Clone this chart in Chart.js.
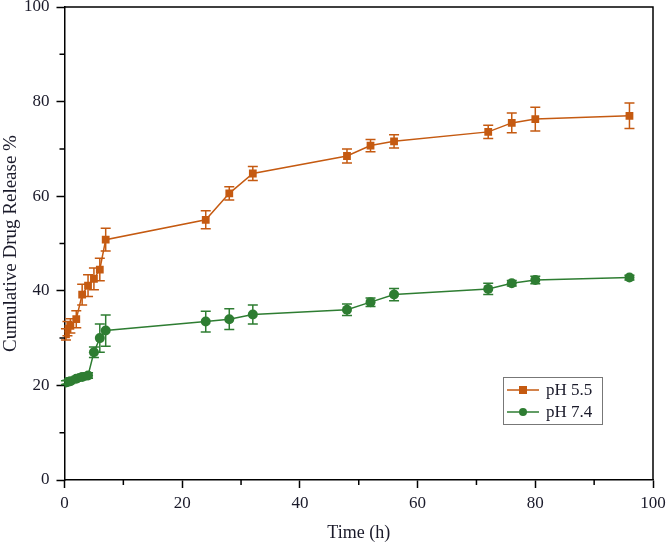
<!DOCTYPE html>
<html>
<head>
<meta charset="utf-8">
<script src="https://cdn.jsdelivr.net/npm/chart.js@4.4.0/dist/chart.umd.min.js"></script>
<style>
	html, body { margin: 0; padding: 0; background: #fff; }
	#wrap { width: 666px; height: 545px; }
</style>
</head>
<body>
<div id="wrap"><canvas id="release-chart" width="666" height="545"></canvas></div>
<script>
const timeH = [0.25, 0.5, 1, 2, 3, 4, 5, 6, 7, 24, 28, 32, 48, 52, 56, 72, 76, 80, 96];
const ph55 = [30.8, 32.0, 32.6, 34.0, 39.2, 41.1, 42.5, 44.5, 50.8, 55.0, 60.6, 64.8, 68.5, 70.7, 71.6, 73.6, 75.5, 76.3, 77.0];
const ph55Err = [1.2, 1.5, 1.5, 1.8, 2.2, 2.3, 2.3, 2.4, 2.4, 1.9, 1.4, 1.5, 1.5, 1.3, 1.4, 1.4, 2.1, 2.5, 2.7];
const ph74 = [20.6, 20.7, 20.9, 21.4, 21.8, 22.1, 27.0, 30.0, 31.6, 33.5, 34.0, 35.0, 36.0, 37.6, 39.2, 40.4, 41.6, 42.3, 42.8];
const ph74Err = [0.4, 0.4, 0.5, 0.5, 0.6, 0.6, 1.1, 3.0, 3.3, 2.2, 2.2, 2.0, 1.2, 0.9, 1.3, 1.2, 0.6, 0.8, 0.5];
const seriesLabels = ['pH 5.5', 'pH 7.4'];

const ORANGE = '#c55a11';
const GREEN = '#2e7d32';
const FONT = "'Liberation Serif', 'Times New Roman', serif";

function toPoints(ys) {
	return timeH.map((t, i) => ({ x: t, y: ys[i] }));
}

// error bars, minor ticks, frame and legend drawn over the chart
const extras = {
	id: 'extras',
	beforeDatasetsDraw(chart) {
		const ctx = chart.ctx;
		const xs = chart.scales.x;
		const ys = chart.scales.y;
		const errs = [ph55Err, ph74Err];
		ctx.save();
		chart.data.datasets.forEach((ds, di) => {
			ctx.strokeStyle = ds.borderColor;
			ctx.lineWidth = 1.5;
			ds.data.forEach((p, i) => {
				const px = xs.getPixelForValue(p.x);
				const top = ys.getPixelForValue(p.y + errs[di][i]);
				const bot = ys.getPixelForValue(p.y - errs[di][i]);
				ctx.beginPath();
				ctx.moveTo(px, top); ctx.lineTo(px, bot);
				ctx.moveTo(px - 5, top); ctx.lineTo(px + 5, top);
				ctx.moveTo(px - 5, bot); ctx.lineTo(px + 5, bot);
				ctx.stroke();
			});
		});
		ctx.restore();
	},
	afterDraw(chart) {
		const ctx = chart.ctx;
		const a = chart.chartArea;
		const xs = chart.scales.x;
		const ys = chart.scales.y;
		ctx.save();
		ctx.strokeStyle = '#000';
		ctx.lineWidth = 1.5;
		// frame on top and right
		ctx.beginPath();
		ctx.moveTo(a.left, a.top); ctx.lineTo(a.right, a.top); ctx.lineTo(a.right, a.bottom);
		ctx.stroke();
		// minor ticks
		ctx.beginPath();
		for (let v = 10; v < 100; v += 20) {
			const px = xs.getPixelForValue(v);
			ctx.moveTo(px, a.bottom); ctx.lineTo(px, a.bottom + 5);
			const py = ys.getPixelForValue(v);
			ctx.moveTo(a.left, py); ctx.lineTo(a.left - 5, py);
		}
		ctx.stroke();

		// legend box
		const lx = 503, ly = 377, lw = 99, lh = 47;
		ctx.strokeStyle = '#777';
		ctx.lineWidth = 1;
		ctx.strokeRect(lx + 0.5, ly + 0.5, lw, lh);
		ctx.font = '17px ' + FONT;
		ctx.textBaseline = 'middle';
		chart.data.datasets.forEach((ds, i) => {
			const cy = ly + 13 + i * 22;
			ctx.strokeStyle = ds.borderColor;
			ctx.lineWidth = 1.5;
			ctx.beginPath();
			ctx.moveTo(lx + 4, cy); ctx.lineTo(lx + 36, cy);
			ctx.stroke();
			ctx.fillStyle = ds.backgroundColor;
			if (ds.pointStyle === 'rect') {
				ctx.fillRect(lx + 16, cy - 4, 8, 8);
			} else {
				ctx.beginPath();
				ctx.arc(lx + 20, cy, 4, 0, Math.PI * 2);
				ctx.fill();
			}
			ctx.fillStyle = '#1a1a2a';
			ctx.fillText(ds.label, lx + 43, cy + 1);
		});
		ctx.restore();
	}
};

new Chart(document.getElementById('release-chart'), {
	type: 'line',
	data: {
		datasets: [
			{
				label: seriesLabels[0],
				data: toPoints(ph55),
				borderColor: ORANGE,
				backgroundColor: ORANGE,
				borderWidth: 1.5,
				pointStyle: 'rect',
				pointRadius: 5.5,
				pointBorderWidth: 0,
				tension: 0
			},
			{
				label: seriesLabels[1],
				data: toPoints(ph74),
				borderColor: GREEN,
				backgroundColor: GREEN,
				borderWidth: 1.5,
				pointStyle: 'circle',
				pointRadius: 5,
				pointBorderWidth: 0,
				tension: 0
			}
		]
	},
	options: {
		responsive: false,
		animation: false,
		layout: { padding: 0 },
		plugins: {
			legend: { display: false },
			tooltip: { enabled: false }
		},
		scales: {
			x: {
				type: 'linear',
				min: 0,
				max: 100,
				afterFit(scale) { scale.height = 65; scale.paddingRight = 13; scale.paddingLeft = 0; },
				border: { color: '#000', width: 1.5 },
				grid: { drawOnChartArea: false, tickLength: 8, tickColor: '#000', tickWidth: 1.5 },
				ticks: { stepSize: 20, color: '#1a1a2a', padding: 5, font: { family: FONT, size: 17 } },
				title: {
					display: true,
					text: 'Time (h)',
					color: '#1a1a2a',
					font: { family: FONT, size: 18 },
					padding: { top: 0, bottom: 1 }
				}
			},
			y: {
				min: 0,
				max: 100,
				afterFit(scale) { scale.width = 64.5; scale.paddingTop = 7; scale.paddingBottom = 0; },
				border: { color: '#000', width: 1.5 },
				grid: { drawOnChartArea: false, tickLength: 8, tickColor: '#000', tickWidth: 1.5 },
				ticks: { stepSize: 20, color: '#1a1a2a', padding: 7, font: { family: FONT, size: 17 } },
				title: {
					display: true,
					text: 'Cumulative Drug Release %',
					color: '#1a1a2a',
					font: { family: FONT, size: 19 },
					padding: { top: 0, bottom: 0 }
				}
			}
		}
	},
	plugins: [extras]
});
</script>
</body>
</html>
